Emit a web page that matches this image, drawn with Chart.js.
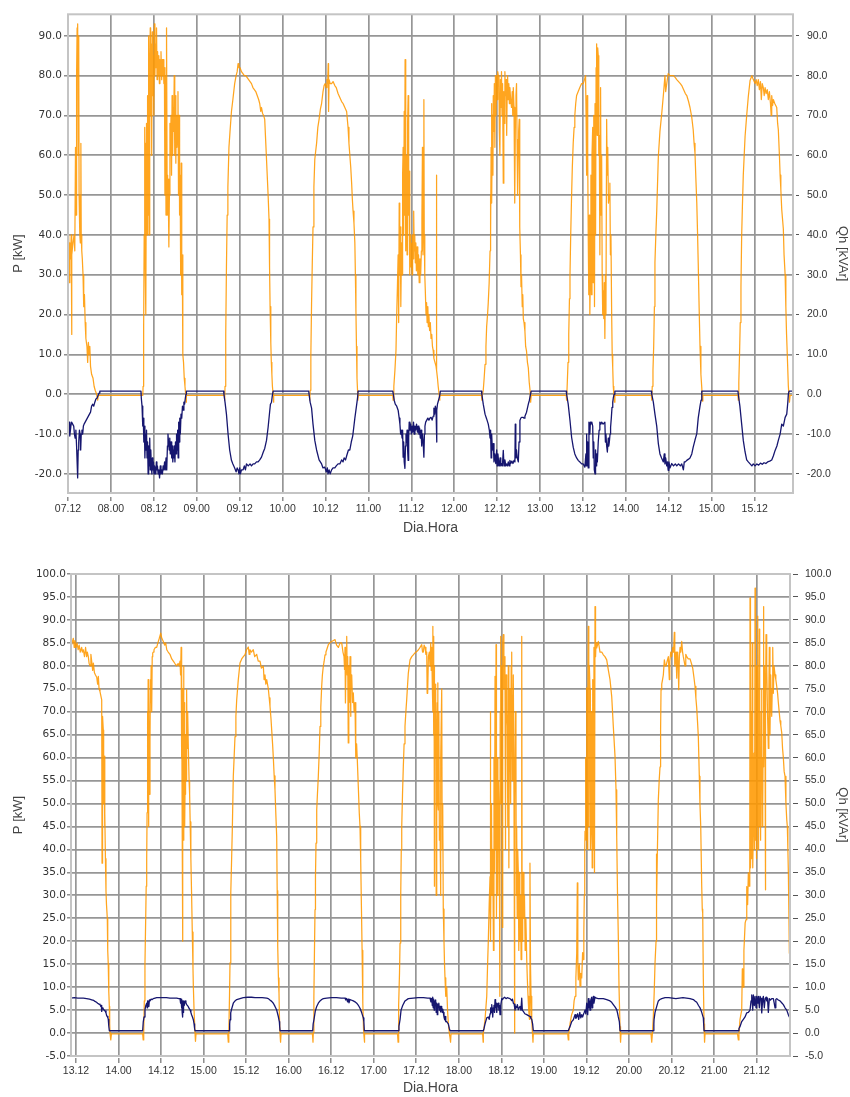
<!DOCTYPE html>
<html>
<head>
<meta charset="utf-8">
<script src="https://cdn.jsdelivr.net/npm/chart.js@4.4.1/dist/chart.umd.min.js"></script>
<style>
html,body{margin:0;padding:0;background:#fff;}
#wrap{position:relative;width:850px;height:1097px;overflow:hidden;background:#fff;}
canvas{position:absolute;left:0;}
#c1{top:0;}
#c2{top:552px;}
</style>
</head>
<body>
<div id="wrap">
<canvas id="c1" width="850" height="552"></canvas>
<canvas id="c2" width="850" height="545"></canvas>
</div>
<script>
// Time is in hours counted from 00:00 of the first day on each axis
// (day 07 for the upper plot, day 13 for the lower one). Pairs are [hour, value].

// ---- Upper plot: 07.12 .. 15.22 ----
const topTickLabels = ['07.12','08.00','08.12','09.00','09.12','10.00','10.12','11.00','11.12','12.00','12.12','13.00','13.12','14.00','14.12','15.00','15.12'];
const topYTicks = [-20,-10,0,10,20,30,40,50,60,70,80,90];

// Active power P [kW]
const pTop = [
  [12.0,30],[12.2,40],[12.35,28],[12.5,38],[12.7,34],[12.9,40],[13.0,15],[13.1,35],[13.4,38],[13.7,40],[13.9,36],[14.1,62],[14.25,45],[14.4,80],[14.55,92],[14.7,93],[14.85,60],[15.0,90],[15.1,50],[15.3,40],[15.45,38],[15.6,63],[15.7,40],[15.85,36],[16.0,34],[16.2,30],[16.4,22],[16.6,25],[16.8,18],[17.0,14],[17.3,12],[17.5,8],[17.7,13],[17.9,10],[18.1,12],[18.3,7],[18.6,5],[19.0,4],[19.3,2],[19.6,1],[20.0,0],[20.3,-1.5],[20.5,-0.3],
  [32.9,-0.3],[33.0,2],[33.15,17],[33.3,40],[33.45,67],[33.55,35],[33.7,63],[33.8,20],[33.95,68],[34.1,40],[34.25,75],[34.4,45],[34.55,90],[34.7,40],[34.85,80],[35.0,92],[35.1,70],[35.25,88],[35.4,60],[35.55,91],[35.7,75],[35.85,85],[36.0,70],[36.15,93],[36.3,80],[36.45,88],[36.6,82],[36.75,92],[36.9,79],[37.05,86],[37.2,80],[37.4,85],[37.55,78],[37.7,84],[37.85,80],[38.0,86],[38.2,79],[38.35,84],[38.5,80],[38.65,84],[38.8,78],[38.95,82],[39.1,50],[39.25,80],[39.4,45],[39.55,92],[39.7,55],[39.85,45],[40.0,54],[40.2,37],[40.35,50],[40.5,68],[40.65,60],[40.8,70],[40.95,55],[41.1,75],[41.25,60],[41.4,72],[41.55,66],[41.7,80],[41.85,60],[42.0,75],[42.15,58],[42.3,70],[42.45,62],[42.6,66],[42.75,76],[42.9,50],[43.05,70],[43.2,45],[43.35,55],[43.5,30],[43.65,58],[43.8,25],[43.95,35],[44.1,10],[44.3,8],[44.5,4],[44.7,2],[44.9,0],[45.0,-2],[45.1,-0.3],
  [55.7,-0.3],[55.8,-1.5],[55.9,2],[56.1,15],[56.3,32],[56.5,45],[56.7,52],[57.0,62],[57.3,66],[57.7,71],[58.1,74],[58.6,78],[59.0,80],[59.3,81],[59.55,83],[59.8,82],[60.1,82],[60.5,81],[60.9,80.5],[61.3,80],[61.7,80],[62.1,79.5],[62.5,79],[62.9,78.5],[63.3,78],[63.7,77],[64.1,76.5],[64.5,76],[64.9,75],[65.3,74],[65.6,73],[65.9,71],[66.1,72],[66.4,70.5],[66.7,70],[67.0,69],[67.25,64],[67.5,59],[67.75,54],[67.95,50],[68.2,44],[68.35,32],[68.5,22],[68.7,13],[68.85,8],[69.0,5],[69.15,2],[69.35,0],[69.45,-2],[69.55,-0.3],
  [79.5,-0.3],[79.6,-1.5],[79.7,1],[79.9,10],[80.1,23],[80.3,33],[80.5,42],[80.75,52],[81.0,59],[81.25,61],[81.5,63],[81.85,67],[82.2,69],[82.55,71.5],[82.9,73],[83.3,76],[83.6,77.5],[83.9,78],[84.2,77],[84.4,79],[84.6,78],[84.75,83],[84.85,71],[85.0,79],[85.3,78],[85.7,78],[86.1,78.5],[86.6,77.5],[87.0,77],[87.5,75.5],[88.0,74.5],[88.5,73.5],[88.9,73],[89.4,72],[89.9,71],[90.3,67],[90.55,63],[90.8,60],[91.05,57],[91.3,53],[91.5,49],[91.7,46],[91.95,43],[92.2,38],[92.35,30],[92.5,21],[92.65,12],[92.8,4],[92.95,1],[93.05,-1.5],[93.15,-0.3],
  [102.8,-0.3],[102.9,-1.5],[103.1,2],[103.4,6],[103.7,11],[103.9,20],[104.1,27],[104.3,35],[104.45,18],[104.6,48],[104.75,30],[104.9,42],[105.05,22],[105.25,38],[105.4,30],[105.55,55],[105.7,62],[105.85,40],[106.0,71],[106.1,45],[106.25,84],[106.35,50],[106.5,36],[106.65,60],[106.8,35],[106.95,68],[107.1,75],[107.25,45],[107.4,56],[107.55,30],[107.7,40],[107.85,32],[108.0,38],[108.2,30],[108.35,40],[108.5,34],[108.65,46],[108.8,36],[108.95,40],[109.1,33],[109.25,38],[109.4,31],[109.6,37],[109.8,30],[110.0,35],[110.2,28],[110.4,34],[110.6,30],[110.8,36],[110.95,44],[111.1,62],[111.25,35],[111.4,50],[111.5,74],[111.6,40],[111.75,30],[111.9,26],[112.1,20],[112.25,23],[112.4,18],[112.6,22],[112.75,17],[112.9,20],[113.1,16],[113.3,18],[113.5,14],[113.7,15],[113.9,12],[114.1,11],[114.3,9],[114.6,8],[114.9,7],[115.0,55],[115.1,6],[115.3,4],[115.5,2],[115.75,0],[115.9,-1.5],[116.0,-0.3],
  [127.6,-0.3],[127.7,-1.5],[127.9,0],[128.1,1],[128.35,4],[128.6,7.5],[128.85,12],[129.05,17],[129.3,20],[129.5,23],[129.75,28],[130.0,36],[130.1,50],[130.2,40],[130.3,62],[130.4,73],[130.5,48],[130.65,70],[130.8,55],[130.9,75],[131.05,66],[131.2,78],[131.35,62],[131.5,80],[131.65,70],[131.85,80],[132.0,74],[132.15,81],[132.3,80],[132.5,78],[132.6,66],[132.75,60],[132.9,79],[133.05,72],[133.2,81],[133.35,70],[133.5,78],[133.7,53],[133.85,76],[134.0,68],[134.15,81],[134.3,75],[134.5,79],[134.65,65],[134.8,77],[134.9,80],[135.05,74],[135.25,78],[135.4,73],[135.55,77],[135.75,74],[136.0,72],[136.2,76],[136.35,70],[136.5,77],[136.7,72],[136.85,62],[136.95,48],[137.1,70],[137.25,75],[137.4,78],[137.55,64],[137.7,50],[137.85,60],[138.0,66],[138.15,69],[138.25,55],[138.35,42],[138.5,35],[138.65,27],[138.8,30],[139.0,22],[139.15,25],[139.3,19],[139.5,18],[139.75,15.8],[139.95,12],[140.2,10.8],[140.45,8],[140.7,6.6],[140.95,3],[141.2,0.8],[141.35,-2],[141.5,-0.3],
  [151.3,-0.3],[151.4,-1.5],[151.6,3],[151.8,8],[152.0,15],[152.2,24],[152.35,30],[152.55,40],[152.8,50],[153.0,57],[153.25,63],[153.5,67],[153.7,70],[153.95,73],[154.2,75],[154.65,76],[155.1,77],[155.6,78],[156.05,78],[156.4,79],[156.7,80],[156.85,70],[157.0,55],[157.15,75],[157.3,60],[157.45,40],[157.6,25],[157.75,45],[157.9,20],[158.05,30],[158.2,55],[158.35,25],[158.5,60],[158.7,67],[158.85,28],[159.0,70],[159.2,22],[159.35,73],[159.5,40],[159.65,82],[159.8,88],[159.95,65],[160.1,87],[160.25,85],[160.4,60],[160.55,65],[160.7,35],[160.9,77],[161.05,45],[161.2,60],[161.35,30],[161.5,20],[161.65,26],[161.8,19],[161.95,28],[162.1,14],[162.25,30],[162.4,20],[162.6,69],[162.75,55],[162.9,62],[163.1,48],[163.3,50],[163.5,53],[163.65,35],[163.8,40],[164.0,20],[164.15,10],[164.3,6.6],[164.45,2],[164.6,0],[164.75,-2],[164.9,-0.3],
  [175.1,-0.3],[175.2,-1.5],[175.35,2],[175.55,6],[175.75,12],[175.95,22],[176.1,33],[176.35,40],[176.6,46],[177.05,59.7],[177.5,66],[178.0,70.5],[178.45,75],[178.9,80],[179.1,76],[179.4,78],[179.8,80.5],[180.3,80],[180.8,80],[181.3,80],[181.8,79.5],[182.2,79],[182.7,78.5],[183.2,78],[183.6,77.5],[184.1,76.5],[184.6,75.5],[185.0,75],[185.5,73.5],[185.9,72],[186.4,69.5],[186.8,66.4],[187.05,63],[187.3,60.5],[187.55,54],[187.8,48],[188.0,41],[188.2,33],[188.45,22],[188.7,12],[188.95,5],[189.2,1.6],[189.35,-1.7],[189.5,-0.3],
  [199.3,-0.3],[199.4,-1.5],[199.55,3],[199.75,10],[199.95,18],[200.15,27],[200.35,40],[200.55,47],[200.8,55],[201.3,64.7],[201.75,70],[202.2,74.7],[202.7,78.8],[203.2,80],[203.6,79],[204.1,78],[204.4,79],[204.7,77.5],[205.0,79],[205.3,76.5],[205.6,78.5],[205.85,74],[206.1,78],[206.4,77],[206.65,75],[206.9,77],[207.2,75.5],[207.5,76.5],[207.8,74],[208.1,76],[208.4,73],[208.6,70],[208.75,75],[209.0,72.5],[209.2,74],[209.6,73],[210.15,72],[210.4,68],[210.6,66.4],[210.9,60],[211.1,55],[211.3,51.4],[211.55,46.4],[212.0,41.5],[212.2,35],[212.5,30],[212.7,22],[212.9,15],[213.1,10],[213.4,2],[213.7,-2],[213.9,-0.3],[214.7,-0.3]
];

// Reactive power Qh [kVAr]
const qTop = [
  [12.0,-8],[12.3,-7],[12.5,-10.5],[12.8,-8],[13.0,-7],[13.3,-7.5],[13.6,-8],[13.8,-10],[14.0,-11],[14.2,-9],[14.4,-13],[14.55,-17],[14.7,-21],[14.85,-14],[15.0,-12],[15.2,-9],[15.4,-10],[15.55,-14],[15.7,-10],[15.9,-9],[16.1,-10],[16.3,-8],[16.5,-7.5],[16.8,-7],[17.1,-6.5],[17.4,-6],[17.7,-5.5],[18.0,-5],[18.3,-4.5],[18.6,-3],[18.9,-2.5],[19.2,-3],[19.5,-2],[19.8,-1.2],[20.1,-1],[20.4,-0.3],[20.7,0.3],[20.9,0.8],
  [32.4,0.8],[32.5,-1],[32.7,-3],[32.9,-8],[33.05,-6],[33.2,-12],[33.35,-8],[33.5,-16],[33.65,-10],[33.8,-14],[33.95,-9],[34.1,-16],[34.25,-12],[34.4,-20],[34.55,-13],[34.7,-18],[34.85,-11],[35.0,-19],[35.15,-14],[35.3,-18],[35.45,-20],[35.6,-16],[35.75,-19],[35.9,-17],[36.05,-20],[36.2,-18],[36.4,-19],[36.55,-20],[36.7,-17],[36.85,-19],[37.0,-18],[37.2,-20],[37.4,-19],[37.6,-21],[37.8,-18],[38.0,-20],[38.2,-19],[38.4,-20],[38.6,-18],[38.8,-19],[39.0,-17],[39.2,-19],[39.4,-16],[39.6,-19],[39.8,-13],[39.95,-10],[40.1,-12],[40.3,-14],[40.45,-11],[40.6,-15],[40.8,-12],[41.0,-16],[41.15,-13],[41.3,-17],[41.45,-14],[41.6,-16],[41.75,-13],[41.9,-17],[42.05,-12],[42.2,-15],[42.35,-10],[42.5,-14],[42.65,-9],[42.8,-16],[42.95,-7],[43.1,-12],[43.25,-6],[43.4,-10],[43.6,-5],[43.8,-6],[44.0,-3],[44.2,-4],[44.4,-2],[44.6,-2.5],[44.8,-1],[45.0,0],[45.1,0.8],
  [55.5,0.8],[55.6,0],[55.9,-2],[56.3,-5],[56.75,-10],[57.2,-14],[57.7,-16.6],[58.1,-17.5],[58.6,-18.5],[59.0,-19.5],[59.3,-18.5],[59.55,-19],[59.8,-20],[60.0,-18.5],[60.2,-20],[60.5,-19],[60.95,-19],[61.3,-18],[61.6,-19],[61.9,-17.5],[62.4,-18],[62.9,-17.5],[63.3,-18],[63.75,-17.5],[64.2,-17.5],[64.7,-17],[65.15,-17],[65.6,-16.5],[66.1,-15.8],[66.6,-14.5],[67.0,-13.6],[67.5,-11.6],[67.95,-8.3],[68.4,-4.2],[68.6,-2.5],[68.9,-2],[69.1,-0.5],[69.35,0.8],
  [79.3,0.8],[79.4,0],[79.7,-2],[80.1,-3.5],[80.5,-7.5],[81.0,-11.6],[81.5,-14],[82.2,-16.5],[82.9,-17.5],[83.3,-18.5],[83.8,-18.3],[84.2,-19.5],[84.5,-18.5],[84.7,-20],[85.0,-19],[85.3,-20],[85.7,-19],[86.1,-18.5],[86.6,-18.5],[87.0,-18],[87.5,-17.5],[88.0,-17.5],[88.5,-16.5],[88.9,-17],[89.2,-16],[89.6,-16.5],[89.9,-15.5],[90.4,-14],[90.8,-14],[91.2,-12],[91.6,-10.5],[91.9,-8.3],[92.2,-6],[92.5,-4],[92.8,-2],[93.0,-0.5],[93.1,0.8],
  [102.8,0.8],[102.95,0],[103.2,-1.5],[103.5,-2.5],[103.9,-3],[104.3,-4],[104.6,-6],[104.8,-7.5],[105.0,-10],[105.2,-9],[105.4,-11],[105.55,-9],[105.7,-15.8],[105.85,-12],[106.0,-17],[106.2,-18.6],[106.35,-13],[106.5,-10],[106.65,-12],[106.8,-9],[106.95,-14],[107.1,-16.6],[107.25,-11],[107.4,-7],[107.6,-9],[107.8,-7.5],[108.0,-10],[108.2,-8],[108.4,-9.5],[108.6,-7],[108.8,-10],[109.0,-8],[109.2,-9],[109.45,-7.5],[109.7,-9.5],[109.9,-8],[110.1,-10],[110.3,-8.5],[110.5,-11],[110.7,-9],[110.9,-13],[111.1,-10],[111.3,-12],[111.5,-15.8],[111.65,-10],[111.8,-8],[112.0,-7],[112.3,-6.5],[112.6,-6],[112.9,-6.5],[113.2,-6],[113.5,-5.8],[113.8,-6.5],[114.1,-5.5],[114.3,-3.5],[114.5,-5],[114.7,-3],[114.9,-4],[115.05,-12],[115.15,-4],[115.3,-2.5],[115.6,-1.5],[115.9,-0.5],[116.1,0.8],
  [127.6,0.8],[127.7,0],[128.1,-2.5],[128.6,-5],[129.05,-6.2],[129.5,-7.5],[129.8,-9],[130.0,-11],[130.15,-9],[130.3,-16],[130.45,-10],[130.65,-14],[130.9,-12.4],[131.1,-17],[131.35,-15],[131.6,-17.4],[131.85,-14],[132.0,-18],[132.2,-15],[132.4,-17],[132.6,-18],[132.8,-16],[133.0,-18],[133.2,-17.4],[133.45,-18],[133.7,-14.1],[133.9,-18],[134.15,-16.5],[134.4,-18],[134.65,-17.5],[134.9,-18],[135.1,-17],[135.35,-18],[135.55,-16.6],[135.8,-17.4],[136.1,-16.8],[136.4,-17.4],[136.7,-16.6],[136.95,-17],[137.05,-7.5],[137.2,-16],[137.4,-14],[137.6,-16],[137.9,-17],[138.1,-12],[138.35,-6.6],[138.6,-6],[138.8,-5.8],[139.2,-5.8],[139.5,-6],[139.75,-5.5],[140.2,-4.5],[140.7,-2.5],[141.0,-1.5],[141.2,-0.5],[141.5,0.8],
  [151.3,0.8],[151.4,0],[151.85,-2.5],[152.35,-6.6],[152.8,-10.8],[153.25,-13.3],[153.7,-15],[154.2,-16],[154.65,-16.6],[155.1,-17],[155.6,-17.5],[156.05,-17.5],[156.5,-18.3],[156.8,-15],[156.9,-18],[157.0,-10],[157.15,-18],[157.3,-12],[157.45,-18.5],[157.65,-7],[157.9,-10],[158.05,-7],[158.2,-7.5],[158.45,-7],[158.7,-8],[158.85,-16],[159.0,-12],[159.15,-19],[159.35,-20],[159.5,-14],[159.65,-18],[159.8,-15],[160.0,-17],[160.25,-12],[160.5,-9],[160.7,-7],[161.0,-7.5],[161.2,-7],[161.6,-7.5],[162.1,-7],[162.25,-12],[162.4,-10],[162.6,-13],[162.8,-14.5],[163.05,-11],[163.2,-13],[163.35,-12],[163.55,-10],[163.7,-8.3],[163.9,-6],[164.1,-3.3],[164.3,-2],[164.45,-1],[164.7,0],[164.9,0.8],
  [175.1,0.8],[175.2,0],[175.65,-2],[176.1,-5],[176.6,-8],[177.05,-12.4],[177.5,-15],[177.95,-16],[178.45,-17],[178.7,-15],[178.9,-17.5],[179.1,-16],[179.4,-18],[179.6,-17],[179.8,-19.1],[180.0,-17],[180.3,-18.5],[180.8,-17.4],[181.3,-18],[181.8,-17.5],[182.2,-18],[182.7,-17.5],[183.2,-18],[183.6,-17.5],[184.05,-19],[184.3,-17],[184.6,-17],[185.0,-16.6],[185.5,-16.3],[185.9,-16],[186.4,-15],[186.8,-13.3],[187.3,-11.5],[187.8,-9.9],[188.2,-6],[188.7,-3],[189.0,-1.5],[189.2,0.8],
  [199.3,0.8],[199.4,0],[199.85,-3],[200.35,-7.5],[200.8,-11.6],[201.3,-14.5],[201.75,-16.5],[202.2,-17],[202.7,-17.5],[203.2,-18],[203.6,-17.5],[204.1,-18],[204.6,-17.5],[205.1,-17.8],[205.6,-17.3],[206.1,-17.6],[206.6,-17.2],[207.1,-17.4],[207.6,-17],[208.2,-16.8],[208.75,-16.5],[209.2,-15.5],[209.7,-14.1],[210.2,-13],[210.6,-11.6],[211.1,-10],[211.55,-7.5],[212.0,-8],[212.5,-5.8],[212.95,-5],[213.25,-2],[213.4,0],[213.6,0.8],[214.7,0.8]
];

// ---- Lower plot: 13.10 .. 21.21 ----
const botTickLabels = ['13.12','14.00','14.12','15.00','15.12','16.00','16.12','17.00','17.12','18.00','18.12','19.00','19.12','20.00','20.12','21.00','21.12'];
const botYTicks = [-5,0,5,10,15,20,25,30,35,40,45,50,55,60,65,70,75,80,85,90,95,100];

const pBot = [
  [10.6,84.2],[10.9,85],[11.24,86],[11.5,84],[11.7,85.5],[12.0,84],[12.3,85],[12.6,83.5],[12.9,84.5],[13.2,83],[13.6,84],[13.8,83],[14.06,83.5],[14.4,82],[14.7,84],[15.0,82],[15.2,83],[15.47,82],[15.7,80.5],[15.95,80],[16.2,82.5],[16.43,81],[16.7,79],[16.9,80.6],[17.2,78.5],[17.5,78],[17.84,77.5],[18.1,76],[18.3,77.7],[18.5,75],[18.77,74.4],[19.0,73.5],[19.25,72.6],[19.35,37],[19.45,68],[19.53,69],[19.7,66],[19.8,50],[19.9,60.3],[20.05,45],[20.18,48],[20.3,38],[20.46,30.9],[20.6,28],[20.83,25],[20.95,18],[21.1,15],[21.25,9],[21.4,5.8],[21.5,2],[21.6,0],[21.75,-1.5],[21.87,-1.5],[22.0,-0.2],
  [30.8,-0.2],[30.95,-1.5],[31.1,0],[31.27,7],[31.45,15],[31.66,25],[31.8,32],[31.94,38],[32.05,48],[32.15,70],[32.25,50],[32.35,77],[32.45,45],[32.55,74],[32.7,52],[32.87,63.5],[33.0,77],[33.07,72],[33.2,80],[33.35,70],[33.5,82],[33.64,82.8],[33.8,83],[34.0,83.5],[34.4,84],[34.76,84],[35.1,85],[35.5,86],[35.9,87.1],[36.2,86],[36.63,85.3],[37.0,84.5],[37.3,85],[37.6,83.5],[38.0,83],[38.5,82.5],[39.0,81.5],[39.45,81],[39.9,80.5],[40.4,80],[40.8,80.5],[41.1,80],[41.34,81],[41.5,78],[41.65,84],[41.75,60],[41.85,80],[41.95,45],[42.05,75],[42.1,20],[42.15,70],[42.25,42],[42.35,80],[42.45,50],[42.55,72],[42.65,45],[42.75,52],[42.9,65],[43.05,55],[43.2,74.8],[43.35,62],[43.5,70],[43.7,61.7],[43.9,55],[44.05,52],[44.2,46],[44.4,38],[44.6,30.5],[44.8,22],[45.0,14],[45.1,10.2],[45.3,5],[45.57,0],[45.7,-1.8],[45.85,-0.2],
  [54.8,-0.2],[54.96,-2],[55.1,0],[55.3,8],[55.44,15.3],[55.6,23],[55.72,30.5],[55.9,38],[56.09,44.3],[56.37,55.9],[56.6,60],[56.85,64.6],[57.1,69],[57.33,72.6],[57.78,77],[58.26,80.6],[58.74,81.5],[59.2,82],[59.67,82.4],[60.1,83.5],[60.6,84.1],[60.85,82.5],[61.08,83.5],[61.5,83],[62.0,83.5],[62.4,82],[62.97,82.5],[63.4,81],[63.9,81],[64.3,79.5],[64.84,79.9],[65.05,77],[65.31,78],[65.55,76],[65.79,77],[66.25,75],[66.5,73],[66.72,71.2],[67.0,68.5],[67.2,66],[67.45,63],[67.66,60],[67.9,56],[68.13,53],[68.4,47],[68.61,42.8],[68.75,31],[68.9,18.9],[69.1,12],[69.26,8.7],[69.4,3],[69.55,0],[69.7,-2],[69.83,-0.2],
  [78.7,-0.2],[78.85,-2],[78.94,0.1],[79.1,8],[79.25,17],[79.42,26.9],[79.55,34],[79.7,41.4],[79.9,48.6],[80.1,52],[80.35,55.9],[80.6,61],[80.83,66.8],[81.05,71],[81.3,75.5],[81.5,78],[81.76,79.9],[82.0,81],[82.24,82.4],[82.5,83],[82.72,83.5],[83.17,84.6],[83.6,85],[84.13,85.3],[84.6,85.5],[85.06,85.7],[85.5,84.5],[86.0,84],[86.5,85],[86.95,85],[87.3,83],[87.6,82],[87.75,79.2],[87.88,84],[88.0,71.9],[88.16,80],[88.36,86.4],[88.5,78],[88.64,82],[88.8,63.2],[88.95,80],[89.1,72],[89.3,82],[89.45,69],[89.57,75],[89.77,78],[90.0,72],[90.22,74.1],[90.45,70],[90.7,72],[90.85,62],[90.98,60],[91.15,63],[91.35,59.5],[91.63,53.7],[91.9,48],[92.11,45],[92.3,38],[92.5,28],[92.7,18],[92.9,6.5],[93.1,1],[93.24,-0.7],[93.33,-2],[93.45,-0.2],
  [102.7,-0.2],[102.85,-2],[102.92,0],[103.1,6],[103.25,13],[103.4,19.6],[103.6,30],[103.75,40],[103.88,45],[104.1,52],[104.33,58.1],[104.55,63],[104.8,66.8],[105.05,70],[105.28,72.6],[105.5,75.5],[105.74,78.4],[106.0,80],[106.22,81.3],[106.7,82],[107.15,82.4],[107.6,82.8],[108.1,83.1],[108.6,83.5],[109.04,84],[109.52,84.6],[109.75,83],[109.97,83],[110.2,84.5],[110.45,84],[110.7,82.5],[110.93,83],[111.05,74],[111.2,74.1],[111.4,82],[111.66,83],[111.85,80],[112.06,85],[112.2,79],[112.34,84],[112.5,76],[112.62,88.6],[112.7,70],[112.8,86.4],[112.9,65],[113.0,80],[113.07,32],[113.15,75],[113.27,70],[113.4,60],[113.5,76],[113.6,30],[113.75,63.9],[113.9,72],[114.03,76.3],[114.1,50],[114.2,48.6],[114.35,70],[114.5,42],[114.68,45],[114.8,30],[114.95,60],[115.16,75],[115.3,40],[115.44,50],[115.6,27],[115.8,20],[115.95,15],[116.09,12],[116.3,8],[116.57,10],[116.8,5],[117.02,2.2],[117.3,0],[117.5,-1],[117.65,-2],[117.78,-0.2],
  [126.7,-0.2],[126.85,-2],[126.9,0],[127.38,3],[127.86,8],[128.1,15],[128.3,20],[128.55,28],[128.79,34.1],[128.85,70],[129.0,20],[129.2,50],[129.35,30],[129.55,40],[129.75,18],[129.9,60],[130.05,35],[130.2,77.7],[130.35,40],[130.48,84.6],[130.6,25],[130.85,60],[131.0,30],[131.15,55],[131.4,45],[131.55,8],[131.65,70],[131.8,86.4],[131.95,50],[132.1,80],[132.25,23],[132.37,85],[132.54,86.8],[132.7,75],[132.85,82],[133.0,80],[133.15,40],[133.3,78],[133.5,70],[133.66,66.8],[133.8,45],[133.94,80],[134.1,36],[134.25,72],[134.42,75],[134.6,50],[134.75,80],[134.9,83],[135.05,55],[135.18,60],[135.35,78],[135.55,50],[135.64,0],[135.75,60],[135.83,50],[135.95,70],[136.1,60],[136.2,30],[136.3,45],[136.45,25],[136.6,40],[136.77,35],[136.9,18],[137.05,35],[137.2,20],[137.4,30],[137.55,16],[137.73,86.4],[137.85,20],[138.0,30],[138.18,35],[138.35,25],[138.5,30],[138.7,18],[138.9,25],[139.14,16],[139.3,12],[139.5,8],[139.7,5],[139.9,3],[140.05,37],[140.2,15],[140.35,8],[140.55,3],[140.75,0],[140.9,-2],[141.0,-0.2],
  [150.7,-0.2],[150.87,-1.5],[151.0,0],[151.35,2],[151.8,4],[152.28,5],[152.5,7],[152.76,8],[153.0,12],[153.24,17.4],[153.41,32.7],[153.55,15],[153.69,11.6],[153.97,15],[154.17,10.2],[154.4,13],[154.65,12],[154.9,17.5],[155.1,16],[155.25,22],[155.38,30],[155.5,40],[155.58,44],[155.75,60],[155.9,42],[156.06,75.2],[156.2,40],[156.35,70],[156.51,88.6],[156.65,45],[156.8,80],[156.99,75],[157.1,40],[157.27,45],[157.45,70],[157.6,36],[157.75,77],[157.92,40],[158.1,84],[158.25,35],[158.4,92.9],[158.55,82],[158.69,85],[158.88,83.9],[159.1,84.5],[159.34,85.3],[159.6,84],[159.81,83],[160.3,83],[160.74,82.4],[161.2,82],[161.7,81.3],[162.15,79.1],[162.63,77],[163.11,73.3],[163.56,66.8],[164.04,60.3],[164.32,53],[164.52,42.8],[164.75,30],[164.97,21],[165.17,10],[165.45,1.4],[165.6,-2],[165.73,-0.2],
  [174.2,-0.2],[174.4,-2],[174.6,0],[174.85,3.6],[175.1,9],[175.33,15.3],[175.61,20],[175.7,39],[175.81,28],[176.0,40],[176.26,50.8],[176.5,55],[176.74,58],[176.9,66],[177.02,74.8],[177.22,76],[177.45,77],[177.67,78],[177.96,81.3],[178.2,80],[178.44,80],[178.75,81],[179.08,82],[179.36,77],[179.5,81],[179.76,83],[180.0,82],[180.32,84],[180.55,83],[180.77,87.3],[180.9,80],[181.06,81],[181.25,83],[181.45,77.3],[181.6,82],[181.73,83],[181.87,80],[182.01,74.8],[182.2,82],[182.38,84],[182.6,83],[182.86,85.3],[183.1,83],[183.31,82],[183.55,81],[183.79,80],[184.0,82.5],[184.27,82],[184.7,81.5],[185.2,81.5],[185.6,80.5],[185.96,79.5],[186.3,77.5],[186.61,75.5],[186.85,73],[187.09,70.8],[187.3,68],[187.54,64.6],[187.82,55.9],[188.0,50],[188.22,45],[188.5,31.9],[188.65,27],[188.78,26.1],[188.95,12],[189.15,2],[189.3,-2],[189.43,-0.2],
  [198.6,-0.2],[198.83,-1.5],[199.0,0],[199.3,3],[199.78,5],[199.95,14],[200.07,13.8],[200.24,10],[200.4,18],[200.52,20],[200.75,24],[201.0,24.7],[201.2,31.9],[201.45,28],[201.65,34.9],[201.9,32],[202.05,38],[202.13,94.8],[202.25,36],[202.41,42],[202.5,70],[202.61,38],[202.77,85],[202.89,36],[203.06,45],[203.26,61],[203.4,40],[203.54,96.9],[203.65,42],[203.82,80],[203.92,38],[204.0,61],[204.15,45],[204.3,90.8],[204.4,40],[204.47,55],[204.6,44],[204.75,88],[204.85,45],[204.94,60],[205.1,42],[205.25,70],[205.43,75],[205.55,45],[205.71,49.4],[205.8,60],[205.88,92.9],[206.05,58],[206.2,80],[206.36,59.5],[206.45,31.2],[206.55,70],[206.64,86.8],[206.83,80],[207.05,70],[207.29,62],[207.45,75],[207.57,84],[207.75,65],[207.96,78],[208.1,72],[208.24,69],[208.4,75],[208.53,84],[208.7,74],[208.9,80],[209.18,78],[209.4,77],[209.66,75.5],[209.9,74],[210.11,72],[210.35,70],[210.59,68],[210.8,67],[211.07,65.4],[211.3,62],[211.52,60],[211.75,57],[212.0,55.9],[212.25,50],[212.48,46.5],[212.65,45],[212.8,40],[212.94,35],[213.1,25],[213.22,17.4],[213.4,20]
];

const qBot = [
  [10.6,7.6],[11.5,7.7],[12.5,7.6],[13.5,7.6],[14.06,7.6],[15.0,7.5],[15.8,7.4],[16.43,7.25],[17.0,7.1],[17.36,6.9],[17.8,6.7],[18.1,6.5],[18.5,6.3],[18.77,6.2],[19.0,5.8],[19.15,6.0],[19.25,4.7],[19.4,5.5],[19.6,5.4],[19.9,5],[20.2,4.8],[20.46,4.4],[20.65,3.8],[20.83,3.6],[21.0,3.3],[21.1,3],[21.25,1.5],[21.4,0.5],
  [30.8,0.5],[30.98,2.5],[31.2,3.5],[31.46,5.1],[31.7,6],[31.94,6.5],[32.1,5.5],[32.2,7],[32.4,6.9],[32.55,5.8],[32.7,7.2],[32.87,7],[33.2,7.4],[33.5,7.3],[33.8,7.5],[34.3,7.6],[34.76,7.7],[35.5,7.7],[36.5,7.7],[37.5,7.7],[38.5,7.6],[39.5,7.6],[40.4,7.6],[41.0,7.5],[41.34,7.5],[41.5,6.5],[41.62,7.4],[41.75,5.5],[41.85,7.3],[41.95,4.5],[42.05,7],[42.1,3.5],[42.2,6.5],[42.27,4.5],[42.4,7],[42.55,6],[42.75,7],[43.0,6.6],[43.2,6.2],[43.45,6],[43.7,5.7],[43.95,5.3],[44.2,5],[44.4,4.5],[44.6,4],[44.85,3.5],[45.1,2.9],[45.3,2],[45.45,1],[45.57,0.5],
  [55.24,0.5],[55.35,2],[55.44,2.9],[55.64,4.4],[55.92,5.3],[56.37,6.5],[56.85,7],[57.33,7.3],[58.26,7.5],[59.19,7.7],[60.5,7.8],[61.5,7.8],[62.5,7.7],[63.5,7.7],[64.5,7.7],[65.79,7.6],[66.25,7.5],[66.7,7.2],[67.2,6.9],[67.66,6.5],[68.13,5.8],[68.61,5],[69.07,3.6],[69.35,2.5],[69.45,1.5],[69.55,0.5],
  [78.77,0.5],[78.9,2],[79.14,3],[79.5,4.8],[79.9,5.8],[80.35,6.5],[80.83,7],[81.3,7.3],[81.76,7.5],[82.72,7.6],[84,7.7],[85.5,7.7],[86.8,7.6],[87.88,7.6],[88.1,7.2],[88.36,7.5],[88.6,6.8],[88.8,7.4],[89.0,6.6],[89.3,7.3],[89.6,7.2],[90.22,7],[90.7,6.8],[91.18,6.5],[91.6,6.1],[92.11,5.4],[92.6,4.4],[93.04,3.3],[93.2,2.5],[93.33,0.5],
  [102.92,0.5],[103.1,1.5],[103.4,2.9],[103.69,5],[104.15,6],[104.8,7],[105.74,7.5],[107.15,7.6],[108.5,7.7],[110,7.7],[111.2,7.6],[111.86,7.6],[112.1,6.8],[112.34,7.5],[112.5,6],[112.62,7.8],[112.75,5.5],[112.9,7.4],[113.05,5],[113.15,7],[113.27,6],[113.45,7.2],[113.6,4.5],[113.75,6.5],[113.9,4],[114.05,6.3],[114.2,5.5],[114.35,6.5],[114.5,5],[114.68,5.8],[114.85,4.6],[115.0,5.8],[115.16,5.5],[115.3,4.5],[115.45,5.2],[115.6,4.5],[115.8,3.5],[116.0,2.9],[116.09,3.6],[116.3,2.5],[116.57,2.5],[116.8,2.2],[117.02,2],[117.3,1],[117.5,0.5],
  [126.9,0.5],[127.1,1],[127.38,2],[127.86,3.3],[128.3,3.5],[128.55,3],[128.79,4.2],[128.95,5.5],[129.1,4.5],[129.27,6.2],[129.4,5],[129.55,3.5],[129.7,5.5],[129.9,6],[130.05,4.5],[130.2,7.3],[130.35,5.5],[130.5,6.5],[130.68,4.5],[130.85,6],[131.1,6.5],[131.3,5],[131.45,6],[131.6,4],[131.8,6],[132.1,7.5],[132.3,7.3],[132.54,7.6],[132.9,7.8],[133.3,7.5],[133.7,7.7],[134.0,7.6],[134.42,7.5],[134.9,7.1],[135.1,7.4],[135.36,6.5],[135.6,6.3],[135.83,5],[136.05,5.8],[136.3,5.5],[136.5,6.2],[136.77,5.1],[137.0,5.5],[137.25,5.8],[137.5,5],[137.73,7.6],[137.9,5],[138.18,4.7],[138.6,4.2],[139.14,4],[139.6,3.8],[140.07,3.6],[140.3,3.2],[140.55,3],[140.8,2],[141.0,0.5],
  [150.87,0.5],[151.1,1],[151.35,1.4],[151.83,2.5],[152.28,2.9],[152.76,4],[153.0,3.2],[153.24,3.5],[153.5,4.2],[153.8,3],[154.1,4.5],[154.4,3.3],[154.65,4],[154.9,3.5],[155.1,4],[155.35,4.5],[155.58,5],[155.8,4.2],[156.06,6.5],[156.2,5],[156.34,4],[156.51,7.5],[156.7,5.5],[156.85,7],[156.99,5],[157.2,7.2],[157.47,7.8],[157.6,5.5],[157.75,6],[157.92,8],[158.1,6.5],[158.4,7.8],[158.8,7.6],[159.34,7.5],[160.0,7.5],[160.74,7.5],[161.7,7.3],[162.63,7],[163.1,6.7],[163.56,6.2],[164.04,5.7],[164.52,5.1],[164.8,4.2],[164.97,3.5],[165.26,2.5],[165.45,0.5],
  [174.85,0.5],[175.0,2],[175.05,2.9],[175.33,4.5],[175.81,5.8],[176.26,7],[176.7,7.3],[177.22,7.5],[178.16,7.7],[179.2,7.7],[180.2,7.6],[181.2,7.5],[182.2,7.6],[183.2,7.7],[184.2,7.6],[185.2,7.5],[186.14,7.3],[186.6,7],[187.09,6.7],[187.6,6],[188.02,5.5],[188.5,4.5],[188.95,3.3],[189.05,2],[189.15,0.5],
  [198.83,0.5],[199.0,1],[199.3,1.4],[199.78,2.5],[200.24,3],[200.72,3.5],[201.2,4.4],[201.65,4.5],[202.13,5],[202.41,7],[202.61,8.3],[202.89,5],[203.06,8.3],[203.34,6],[203.54,8],[203.82,5.5],[204.0,8],[204.15,6.5],[204.3,7],[204.47,8],[204.75,5.5],[204.94,8],[205.22,7.5],[205.43,4.4],[205.71,7.5],[205.88,8],[206.16,5.5],[206.4,7.5],[206.64,7.8],[206.83,7],[207.05,7.6],[207.29,4.5],[207.57,7.5],[207.9,7.2],[208.24,7.5],[208.7,7.5],[208.95,6.5],[209.18,5.5],[209.4,7.3],[209.66,7.5],[210.1,7.2],[210.59,7],[211.05,6.6],[211.52,6.2],[212.0,5.5],[212.48,5],[212.94,4],[213.22,3.5],[213.4,3.5]
];

// ---- shared styling ----
const ORANGE = 'rgba(255,153,0,0.88)';
const NAVY = '#16166f';
const GRID = '#969696';
const TICK_TEXT = '#333';
const TITLE_TEXT = '#444';

// Light frame around the plotting area
const plotFrame = {
  id: 'plotFrame',
  afterDatasetsDraw(chart) {
    const { ctx, chartArea: a } = chart;
    ctx.save();
    ctx.strokeStyle = '#c4c4c4';
    ctx.lineWidth = 2;
    ctx.strokeRect(a.left, a.top, a.right - a.left, a.bottom - a.top);
    ctx.restore();
  }
};

const toPoints = arr => arr.map(([x, y]) => ({ x, y }));

function buildChart(canvasId, o) {
  // tick positions follow from the "DD.HH" labels
  const tickHours = o.tickLabels.map(s => {
    const [d, h] = s.split('.').map(Number);
    return (d - o.firstDay) * 24 + h;
  });
  const yAxisBase = (pos) => ({
    type: 'linear',
    position: pos,
    min: o.yMin,
    max: o.yMax,
    afterBuildTicks: s => { s.ticks = o.yTicks.map(v => ({ value: v })); },
    afterFit: s => { s.width = pos === 'left' ? o.leftW : o.rightW; },
    border: { display: false },
    ticks: {
      autoSkip: false,
      callback: v => v.toFixed(1),
      color: TICK_TEXT,
      padding: pos === 'left' ? o.leftPad : o.rightPad,
      font: pos === 'left' ? { family: 'DejaVu Sans', size: 10.5 } : { family: 'Liberation Sans', size: 10.5 }
    }
  });
  const y = yAxisBase('left');
  y.grid = { color: GRID, lineWidth: 1.7, drawTicks: true, tickLength: o.leftTick, tickColor: '#555', tickWidth: 1 };
  y.title = { display: true, text: 'P [kW]', color: TITLE_TEXT, font: { family: 'Liberation Sans', size: 13 }, padding: { top: 11, bottom: 0 } };
  const y1 = yAxisBase('right');
  y1.grid = { drawOnChartArea: false, drawTicks: true, tickLength: o.rightTick, tickColor: '#555', tickWidth: 1, tickBorderDash: o.rightDash };
  y1.title = { display: true, text: 'Qh [kVAr]', color: TITLE_TEXT, font: { family: 'Liberation Sans', size: 13 }, padding: { top: 0, bottom: 0 } };

  return new Chart(document.getElementById(canvasId), {
    type: 'line',
    data: {
      datasets: [
        { label: 'Qh', data: toPoints(o.q), yAxisID: 'y1', borderColor: NAVY, borderWidth: 1.3, pointRadius: 0, tension: 0, borderJoinStyle: 'round' },
        { label: 'P', data: toPoints(o.p), yAxisID: 'y', borderColor: ORANGE, borderWidth: 1.25, pointRadius: 0, tension: 0, borderJoinStyle: 'round' }
      ]
    },
    options: {
      responsive: false,
      animation: false,
      devicePixelRatio: 1,
      layout: { padding: { top: o.padTop, left: 0, right: 0, bottom: 0 } },
      plugins: { legend: { display: false }, tooltip: { enabled: false } },
      scales: {
        x: {
          type: 'linear',
          min: o.xMin,
          max: o.xMax,
          afterBuildTicks: s => { s.ticks = tickHours.map(v => ({ value: v })); },
          afterFit: s => { s.height = o.bottomH; },
          border: { display: false },
          grid: { color: GRID, lineWidth: 1.7, drawTicks: true, tickLength: o.xTick, tickColor: '#555', tickWidth: 1, tickBorderDash: o.xDash },
          ticks: {
            autoSkip: false, maxRotation: 0,
            callback: (v, i) => o.tickLabels[i],
            color: TICK_TEXT, padding: o.xPad,
            font: { family: 'Liberation Sans', size: 10.5 }
          },
          title: { display: true, text: 'Dia.Hora', color: TITLE_TEXT, font: { family: 'Liberation Sans', size: 14 }, padding: { top: 0, bottom: o.xTitlePad } }
        },
        y, y1
      }
    },
    plugins: [plotFrame]
  });
}

buildChart('c1', {
  p: pTop, q: qTop, tickLabels: topTickLabels, firstDay: 7,
  xMin: 12, xMax: 214.7, yMin: -24.8, yMax: 95.4, yTicks: topYTicks,
  leftW: 68, rightW: 57, bottomH: 59, padTop: 10,
  leftTick: 4, leftPad: 2, rightTick: 6, rightPad: 8, rightDash: [0, 3, 4, 100],
  xTick: 8, xPad: 2, xDash: [0, 4, 4, 100], xTitlePad: 15
});

buildChart('c2', {
  p: pBot, q: qBot, tickLabels: botTickLabels, firstDay: 13,
  xMin: 10.59, xMax: 213.4, yMin: -5, yMax: 100, yTicks: botYTicks,
  leftW: 71, rightW: 60, bottomH: 41, padTop: 22,
  leftTick: 4, leftPad: 1, rightTick: 8, rightPad: 7, rightDash: [0, 3, 5, 100],
  xTick: 7, xPad: 2, xDash: [0, 2, 5, 100], xTitlePad: 0
});
</script>
</body>
</html>
